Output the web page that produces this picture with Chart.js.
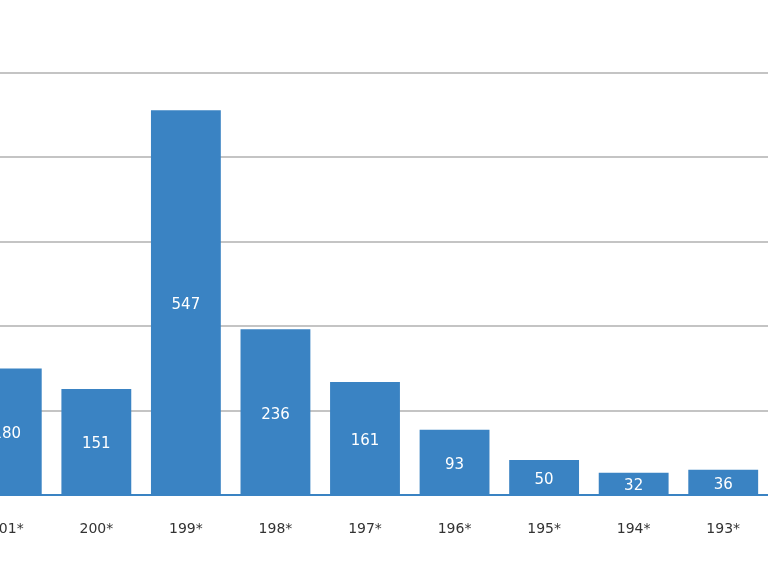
<!DOCTYPE html>
<html>
<head>
<meta charset="utf-8">
<script src="https://cdn.jsdelivr.net/npm/chart.js@4"></script>
<style>
  html, body { margin: 0; padding: 0; background: #fff; }
  #wrap { position: relative; width: 770px; height: 578px; overflow: hidden; }
  #box { position: absolute; left: -38px; top: 0; width: 806px; height: 578px; }
</style>
</head>
<body>
<div id="wrap"><div id="box"><canvas id="chart"></canvas></div></div>
<script>
// Datos del gráfico (recortado por la izquierda y la derecha)
const categories = ['201*', '200*', '199*', '198*', '197*', '196*', '195*', '194*', '193*'];
const counts = [180, 151, 547, 236, 161, 93, 50, 32, 36];

// Escribe el valor en el centro de cada barra
const valueLabels = {
    id: 'valueLabels',
    afterDatasetsDraw(chart) {
        const ctx = chart.ctx;
        const meta = chart.getDatasetMeta(0);
        ctx.save();
        ctx.font = '15px "DejaVu Sans", sans-serif';
        ctx.fillStyle = '#ffffff';
        ctx.textAlign = 'center';
        ctx.textBaseline = 'middle';
        meta.data.forEach(function(bar, i) {
            const mid = (bar.y + bar.base) / 2 + 3;
            ctx.fillText(String(counts[i]), bar.x, Math.max(mid, bar.y + 12));
        });
        ctx.restore();
    }
};

new Chart(document.getElementById('chart'), {
    type: 'bar',
    data: {
        labels: categories,
        datasets: [{
            data: counts,
            backgroundColor: '#3a83c3',
            categoryPercentage: 1,
            barPercentage: 0.78
        }]
    },
    options: {
        responsive: true,
        maintainAspectRatio: false,
        animation: false,
        layout: { padding: { top: 73, bottom: 22, left: 0, right: 0 } },
        plugins: { legend: { display: false }, tooltip: { enabled: false } },
        scales: {
            y: {
                min: 0,
                max: 600,
                ticks: { display: false, stepSize: 120 },
                border: { display: false },
                grid: { color: '#c4c4c4', lineWidth: 2, drawTicks: false }
            },
            x: {
                ticks: { color: '#333', padding: 18, font: { size: 14, family: '"DejaVu Sans", sans-serif' } },
                border: { color: '#3a83c3', width: 2 },
                grid: { display: false }
            }
        }
    },
    plugins: [valueLabels]
});
</script>
</body>
</html>
